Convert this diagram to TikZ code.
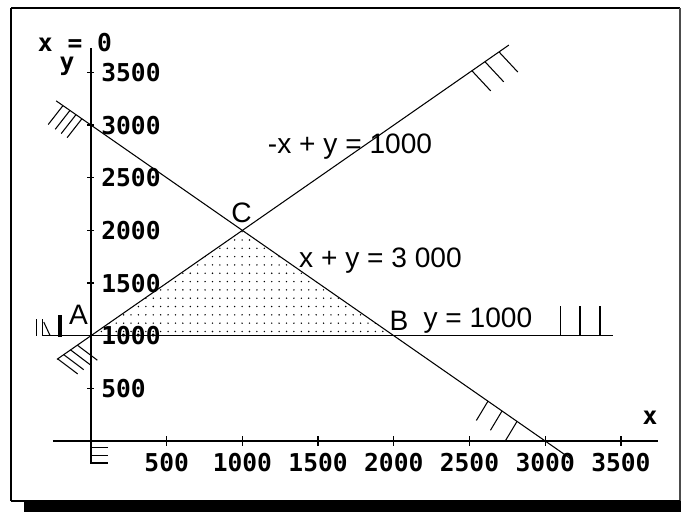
\documentclass[tikz,border=0pt]{standalone}
\usepackage{fontspec}
\setmainfont{Liberation Sans}
\newfontfamily\tickfont{DejaVu Sans Mono}
\usetikzlibrary{calc}

\begin{document}
\begin{tikzpicture}[
    x=3.028cm, y=2.106cm,
    axis/.style={draw, line width=1pt},
    constraint/.style={draw, line width=0.6pt},
    hatch/.style={draw, line width=0.6pt},
    ticklabel/.style={font=\tickfont\bfseries\fontsize{14}{14}\selectfont, inner sep=0pt},
    eqlabel/.style={font=\fontsize{16}{16}\selectfont, inner sep=0pt}
]

\useasboundingbox (-0.601,-0.674) rectangle (3.897,4.188);

% frame
\draw[line width=1.2pt] (-0.528,-0.570) -- (-0.528,4.112);
\draw[line width=1.7pt] (-0.528,4.112) -- (3.890,4.112);
\draw[line width=0.8pt, black!70] (3.890,4.112) -- (3.890,-0.570);
\draw[line width=0.8pt] (-0.528,-0.570) -- (3.890,-0.570);
\fill (-0.4425,-0.570) rectangle (3.897,-0.674);

% corners of the feasible region
\coordinate (A) at (0,1);
\coordinate (B) at (2,1);
\coordinate (C) at (1,2);

% dotted region
\begin{scope}
  \clip (A) -- (B) -- (C) -- cycle;
  \foreach \i in {0,...,41}
    \foreach \j in {0,...,13}
      \fill ({0.02+\i*0.0489},{1.04+\j*0.079}) circle (0.45pt);
\end{scope}

% axes
\coordinate (xs) at (-0.251,0);
\coordinate (xe) at (3.745,0);
\coordinate (ys) at (0,-0.218);
\coordinate (ye) at (0,3.732);
\draw[axis] (xs) -- (xe);
\draw[axis] (ys) -- (ye);

\foreach \k/\lbl in {0.5/500,1/1000,1.5/1500,2/2000,2.5/2500,3/3000,3.5/3500} {
  \draw[line width=0.7pt] (\k,0) ++(0,-0.1cm) -- ++(0,0.2cm);
  \node[ticklabel] (xt\lbl) at (\k,-0.204) {\lbl};
  \draw[line width=0.7pt] (0,\k) ++(-0.07cm,0) -- ++(0.14cm,0);
  \node[ticklabel, anchor=west] (yt\lbl) at (0.066,\k) {\lbl};
}

\node[ticklabel] (xlab) at (3.692,0.218) {x};
\node[ticklabel, text height=1.6ex] (ylab) at (-0.159,3.565) {y};
\node[ticklabel, text depth=0pt] (x0lab) at (-0.106,3.79) {x = 0};

% constraint lines
\coordinate (s1) at (-0.23,3.23);
\coordinate (e1) at (3.18,-0.18);
\coordinate (s2) at (-0.225,0.775);
\coordinate (e2) at (2.76,3.76);
\coordinate (s3) at (-0.324,1);
\coordinate (e3) at (3.448,1);
\draw[constraint] (s1) -- (e1);
\draw[constraint] (s2) -- (e2);
\draw[constraint, line width=0.9pt] (s3) -- (e3);

% hatching
\foreach \t in {-0.185,-0.139,-0.099,-0.06}
  \draw[hatch] (\t,{3-\t}) -- ++(-128:0.48cm);
\foreach \t in {2.622,2.715,2.814}
  \draw[hatch] (\t,{3-\t}) -- ++(-121:0.45cm);
\foreach \t in {2.516,2.602,2.695}
  \draw[hatch] (\t,{1+\t}) -- ++(-47:0.55cm);
\foreach \t in {-0.22,-0.18,-0.135,-0.09}
  \draw[hatch] (\t,{1+\t}) -- ++(-37:0.5cm);
\foreach \t in {3.098,3.23,3.362}
  \draw[hatch] (\t,1) -- (\t,1.282);
\foreach \t in {-0.066,-0.142,-0.209}
  \draw[hatch] (0,\t) -- (0.112,\t);
\draw[hatch] (-0.357,1) -- (-0.357,1.16);
\draw[hatch] (-0.318,1) -- (-0.318,1.16);
\draw[hatch] (-0.312,1.13) -- (-0.27,1.0);
\draw[line width=1.8pt] (-0.205,0.988) -- (-0.205,1.197);

% labels
\node[eqlabel] (lblA) at (-0.083,1.197) {A};
\node[eqlabel] (lblB) at (2.034,1.14) {B};
\node[eqlabel] (lblC) at (0.994,2.17) {C};
\node[eqlabel] (lbl3) at (2.556,1.14) {y = 1000};
\node[eqlabel] (lbl1) at (1.912,1.71) {x + y = 3 000};
\node[eqlabel] (lbl2) at (1.711,2.792) {-x + y = 1000};

\end{tikzpicture}
\end{document}
